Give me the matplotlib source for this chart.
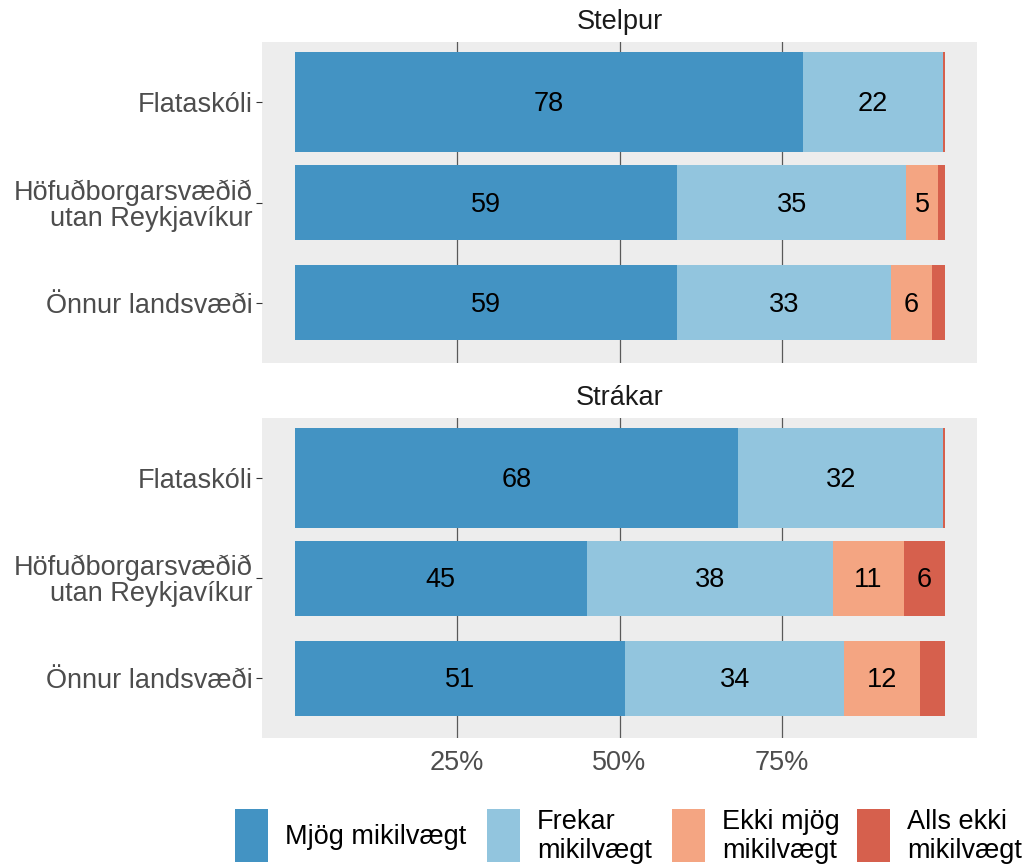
import matplotlib
matplotlib.use("Agg")
import matplotlib.pyplot as plt
from matplotlib.patches import Rectangle

plt.rcParams['font.family'] = ['Liberation Sans', 'DejaVu Sans']

categories = ["Flataskóli", "Höfuðborgarsvæðið\nutan Reykjavíkur", "Önnur landsvæði"]
panels = ["Stelpur", "Strákar"]
levels = ["Mjög mikilvægt", "Frekar\nmikilvægt", "Ekki mjög\nmikilvægt", "Alls ekki\nmikilvægt"]
colors = ["#4393C3", "#92C5DE", "#F4A582", "#D6604D"]

# percentages per panel: rows = categories, columns = levels
stelpur = [
    [78.2, 21.5, 0.0, 0.3],
    [58.9, 35.2, 4.9, 1.0],
    [58.9, 32.8, 6.3, 2.0],
]
strakar = [
    [68.3, 31.5, 0.0, 0.2],
    [45.0, 37.8, 11.0, 6.2],
    [50.9, 33.7, 11.7, 3.7],
]
data = [stelpur, strakar]
xticks = [25, 50, 75]
xticklabels = ["25%", "50%", "75%"]

bar_heights = [1.0, 0.75, 0.75]
FS = 19.5
GRAY = "#4D4D4D"

fig = plt.figure(figsize=(10.29, 8.67), dpi=100)
W, H = 1029, 867
boxes = [(262, 42, 977, 363), (262, 418, 977, 738)]

for p, (name, vals) in enumerate(zip(panels, data)):
    x0, y0, x1, y1 = boxes[p]
    ax = fig.add_axes([x0 / W, 1 - y1 / H, (x1 - x0) / W, (y1 - y0) / H])
    ax.set_facecolor("#EDEDED")
    for s in ax.spines.values():
        s.set_visible(False)
    ax.set_xlim(-5, 105)
    ax.set_ylim(3.6, 0.4)
    for xt in xticks:
        ax.axvline(xt, color="#595959", lw=0.9, zorder=1)
    for i, row in enumerate(vals):
        left = 0.0
        for j, v in enumerate(row):
            if v > 0:
                ax.barh(i + 1, v, left=left, height=bar_heights[i], color=colors[j],
                        zorder=2, linewidth=0)
                if round(v) >= 5:
                    ax.text(left + v / 2, i + 1.02, f"{round(v)}", ha="center", va="center",
                            fontsize=FS, color="black", zorder=3)
            left += v
    ax.set_yticks([1, 2, 3])
    ax.set_yticklabels(categories, fontsize=FS, color=GRAY, linespacing=1.0)
    ax.tick_params(axis="y", length=4, color="#333333", pad=3)
    ax.set_xticks(xticks)
    if p == 1:
        ax.set_xticklabels(xticklabels, fontsize=FS, color=GRAY)
        ax.tick_params(axis="x", length=0, pad=9)
    else:
        ax.set_xticklabels([])
        ax.tick_params(axis="x", length=0)
    fig.text((x0 + x1) / 2 / W, 1 - (y0 - 20) / H, name, ha="center", va="center",
             fontsize=FS, color="#1A1A1A")

# legend (manual)
key_x = [235, 487, 672, 857]
key_w, key_top, key_bot = 33, 809, 862
for k, (lab, col) in enumerate(zip(levels, colors)):
    fig.patches.append(Rectangle((key_x[k] / W, 1 - key_bot / H), key_w / W, (key_bot - key_top) / H,
                                 transform=fig.transFigure, facecolor=col, edgecolor="none"))
    fig.text((key_x[k] + key_w + 17) / W, 1 - ((key_top + key_bot) / 2 + 1) / H, lab,
             ha="left", va="center", fontsize=FS, color="black", linespacing=1.12)

fig.savefig("out.png", dpi=100)
